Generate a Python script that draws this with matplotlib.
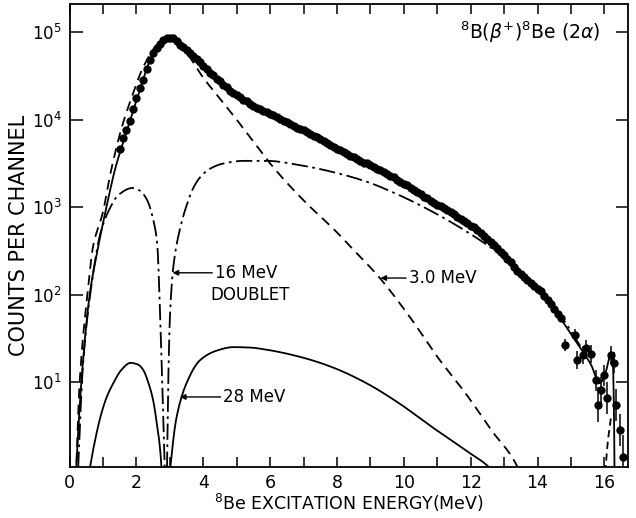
import matplotlib
matplotlib.use('Agg')
import matplotlib.pyplot as plt
import numpy as np

# measured spectrum, log10(counts) per channel
data_e = np.round(np.arange(1.5, 14.75, 0.1), 2)
data_log = [3.67, 3.79, 3.88, 3.99, 4.12, 4.25, 4.36, 4.46, 4.58, 4.68,
            4.76, 4.82, 4.87, 4.91, 4.93, 4.94, 4.93, 4.90, 4.86, 4.83,
            4.80, 4.76, 4.73, 4.70, 4.66, 4.62, 4.58, 4.54, 4.51, 4.47,
            4.44, 4.40, 4.37, 4.33, 4.31, 4.28, 4.26, 4.23, 4.21, 4.18,
            4.16, 4.14, 4.12, 4.10, 4.09, 4.07, 4.05, 4.03, 4.01, 3.99,
            3.97, 3.95, 3.93, 3.91, 3.90, 3.88, 3.86, 3.84, 3.82, 3.80,
            3.78, 3.76, 3.74, 3.71, 3.69, 3.67, 3.65, 3.63, 3.61, 3.59,
            3.57, 3.55, 3.53, 3.51, 3.50, 3.48, 3.46, 3.44, 3.42, 3.40,
            3.38, 3.36, 3.34, 3.31, 3.29, 3.27, 3.25, 3.22, 3.20, 3.17,
            3.15, 3.12, 3.10, 3.07, 3.05, 3.03, 3.01, 2.99, 2.97, 2.94,
            2.92, 2.89, 2.87, 2.84, 2.82, 2.79, 2.77, 2.74, 2.71, 2.67,
            2.64, 2.60, 2.57, 2.53, 2.49, 2.45, 2.41, 2.37, 2.32, 2.27,
            2.24, 2.20, 2.17, 2.13, 2.10, 2.07, 2.04, 1.99, 1.94, 1.89,
            1.84, 1.78, 1.73]

# tail points with error bars (log10 counts, half width in log10)
tail_e = [14.82, 15.12, 15.18, 15.36, 15.45, 15.60, 15.74, 15.80, 15.90,
          15.98, 16.07, 16.19, 16.28, 16.34, 16.46, 16.55]
tail_log = [1.42, 1.54, 1.25, 1.31, 1.39, 1.32, 1.02, 0.74, 0.91,
            1.08, 0.82, 1.31, 1.22, 0.74, 0.45, 0.14]
tail_err = [0.07, 0.07, 0.10, 0.10, 0.09, 0.10, 0.12, 0.20, 0.15,
            0.12, 0.18, 0.10, 0.12, 0.18, 0.18, 0.25]

# total fit (solid)
fit_e = [0.15, 0.35, 0.6, 0.83, 1.1, 1.37, 1.6, 2.0, 2.5, 3.0, 3.4, 4.0,
         5.0, 6.0, 7.0, 8.0, 9.0, 10.0, 11.0, 12.0, 12.5, 13.0, 13.5, 14.0,
         14.5, 15.0, 15.3, 15.6, 15.86, 16.0, 16.1, 16.2, 16.25, 16.29, 16.31]
fit_log = [-0.3, 1.0, 2.0, 2.5, 3.0, 3.45, 3.74, 4.22, 4.75, 4.94, 4.83,
           4.61, 4.27, 4.06, 3.87, 3.66, 3.47, 3.26, 3.02, 2.77, 2.63, 2.44,
           2.23, 2.05, 1.83, 1.55, 1.38, 1.20, 0.99, 1.06, 1.20, 1.34, 1.28,
           0.6, -0.3]

# 3.0 MeV level (dashed)
g3_e = [0.17, 0.3, 0.53, 0.7, 1.0, 1.2, 1.55, 1.85, 2.2, 2.6, 2.95, 3.5,
        4.0, 4.5, 5.0, 5.5, 6.0, 6.5, 7.1, 7.9, 8.5, 9.26, 10.15, 11.04,
        11.85, 12.62, 13.4, 13.6]
g3_log = [-0.3, 1.0, 2.0, 2.55, 2.95, 3.35, 3.9, 4.25, 4.6, 4.85, 4.94,
          4.76, 4.48, 4.24, 4.00, 3.75, 3.50, 3.28, 3.04, 2.75, 2.51, 2.20,
          1.76, 1.27, 0.87, 0.45, 0.03, -0.2]
g3_tail_e = [15.98, 16.1, 16.2]
g3_tail_log = [-0.3, 0.3, 0.6]

# 16 MeV doublet (dash-dot)
d16a_e = [0.22, 0.4, 0.65, 0.92, 1.22, 1.46, 1.88, 2.1, 2.32, 2.5, 2.62,
          2.71, 2.8, 2.87]
d16a_log = [-0.3, 1.2, 2.1, 2.70, 3.0, 3.14, 3.22, 3.19, 3.08, 2.86, 2.58,
            1.74, 0.6, -0.3]
d16b_e = [2.9, 2.95, 3.0, 3.1, 3.3, 3.5, 3.7, 3.9, 4.2, 4.6, 5.2, 5.9, 6.9,
          7.9, 8.9, 9.85, 10.8, 11.8, 12.8, 13.5, 14.2, 14.8, 15.3]
d16b_log = [-0.3, 0.99, 1.74, 2.31, 2.75, 3.02, 3.22, 3.34, 3.44, 3.50,
            3.53, 3.53, 3.48, 3.40, 3.29, 3.14, 2.96, 2.74, 2.48, 2.23,
            2.00, 1.70, 1.40]

# 28 MeV level (solid)
s28a_e = [0.55, 0.7, 0.92, 1.1, 1.31, 1.55, 1.82, 2.05, 2.2, 2.35, 2.5,
          2.6, 2.71, 2.8]
s28a_log = [-0.1, 0.22, 0.6, 0.82, 0.99, 1.14, 1.22, 1.2, 1.14, 1.0, 0.79,
            0.55, 0.22, -0.3]
s28b_e = [2.92, 3.2, 3.5, 3.9, 4.4, 4.9, 5.4, 5.9, 6.88, 7.86, 8.87, 9.85,
          10.83, 11.85, 12.62, 12.8]
s28b_log = [-0.3, 0.6, 0.99, 1.25, 1.36, 1.40, 1.395, 1.37, 1.29, 1.17,
            0.99, 0.76, 0.49, 0.22, 0.0, -0.1]


def smooth(x, y, n=14):
    # monotone cubic (pchip) through the read points, in log space
    x = np.asarray(x, float)
    y = np.asarray(y, float)
    h = np.diff(x)
    d = np.diff(y) / h
    m = np.zeros_like(y)
    m[0], m[-1] = d[0], d[-1]
    for i in range(1, len(x) - 1):
        if d[i - 1] * d[i] > 0:
            w1 = 2 * h[i] + h[i - 1]
            w2 = h[i] + 2 * h[i - 1]
            m[i] = (w1 + w2) / (w1 / d[i - 1] + w2 / d[i])
    xs, ys = [], []
    for i in range(len(x) - 1):
        t = np.linspace(0, 1, n, endpoint=False)
        h00 = 2 * t ** 3 - 3 * t ** 2 + 1
        h10 = t ** 3 - 2 * t ** 2 + t
        h01 = -2 * t ** 3 + 3 * t ** 2
        h11 = t ** 3 - t ** 2
        xs.extend(x[i] + t * h[i])
        ys.extend(h00 * y[i] + h10 * h[i] * m[i] + h01 * y[i + 1]
                  + h11 * h[i] * m[i + 1])
    xs.append(x[-1])
    ys.append(y[-1])
    return np.array(xs), 10 ** np.array(ys)


fig = plt.figure(figsize=(6.36, 5.18), dpi=100)
ax = fig.add_axes([0.1095, 0.0985, 0.8775, 0.8935])
ax.set_yscale('log')

lw = 1.3
ax.plot(*smooth(fit_e, fit_log), color='k', lw=lw)
ax.plot(*smooth(g3_e, g3_log), color='k', lw=lw, dashes=(5.5, 3.5))
ax.plot(*smooth(g3_tail_e, g3_tail_log), color='k', lw=lw, dashes=(4, 2.5))
ax.plot(*smooth(d16a_e, d16a_log), color='k', lw=lw, dashes=(9, 2.5, 1.5, 2.5))
ax.plot(*smooth(d16b_e, d16b_log), color='k', lw=lw, dashes=(9, 2.5, 1.5, 2.5))
ax.plot(*smooth(s28a_e, s28a_log), color='k', lw=lw)
ax.plot(*smooth(s28b_e, s28b_log), color='k', lw=lw)

ax.plot(data_e, 10 ** np.array(data_log), 'o', color='k', ms=6, mew=0)
tl = np.array(tail_log)
te = np.array(tail_err)
ax.errorbar(tail_e, 10 ** tl,
            yerr=[10 ** tl - 10 ** (tl - te), 10 ** (tl + te) - 10 ** tl],
            fmt='o', color='k', ms=6, mew=0, elinewidth=1.1, capsize=2.5,
            capthick=1.1)

ax.set_xlim(0, 16.7)
ax.set_ylim(1.07, 2.1e5)

ax.set_xticks(range(0, 17))
ax.set_xticklabels([str(v) if v % 2 == 0 else '' for v in range(0, 17)])
ax.set_yticks([10, 100, 1000, 1e4, 1e5])
ax.set_yticklabels(['$10^1$', '$10^2$', '$10^3$', '$10^4$', '$10^5$'])
ax.yaxis.set_minor_locator(matplotlib.ticker.NullLocator())
ax.tick_params(axis='x', direction='in', length=7, width=1.1, top=True,
               labelsize=12.5, pad=5)
ax.tick_params(axis='y', direction='in', length=9, width=1.1, right=True,
               labelsize=12, pad=5.5)
for s in ax.spines.values():
    s.set_linewidth(1.3)

ax.set_xlabel('$^8$Be EXCITATION ENERGY(MeV)', fontsize=12.5, labelpad=0)
ax.set_ylabel('COUNTS PER CHANNEL', fontsize=15, labelpad=2)

ax.text(0.70, 0.94, r'$^8$B($\beta^{+}$)$^8$Be (2$\alpha$)', fontsize=13.5,
        transform=ax.transAxes, ha='left', va='center')

ax.annotate('16 MeV', xy=(3.08, 10 ** 2.25), xytext=(4.35, 10 ** 2.25),
            fontsize=12, va='center', ha='left',
            arrowprops=dict(arrowstyle='-|>', color='k', lw=1.0,
                            mutation_scale=8, shrinkA=0, shrinkB=0))
ax.text(4.2, 10 ** 2.0, 'DOUBLET', fontsize=12, va='center', ha='left')
ax.annotate('28 MeV', xy=(3.3, 10 ** 0.83), xytext=(4.6, 10 ** 0.83),
            fontsize=12, va='center', ha='left',
            arrowprops=dict(arrowstyle='-|>', color='k', lw=1.0,
                            mutation_scale=8, shrinkA=0, shrinkB=0))
ax.annotate('3.0 MeV', xy=(9.3, 10 ** 2.19), xytext=(10.15, 10 ** 2.19),
            fontsize=12, va='center', ha='left',
            arrowprops=dict(arrowstyle='-|>', color='k', lw=1.0,
                            mutation_scale=8, shrinkA=0, shrinkB=0))

fig.savefig('out.png', dpi=100)
